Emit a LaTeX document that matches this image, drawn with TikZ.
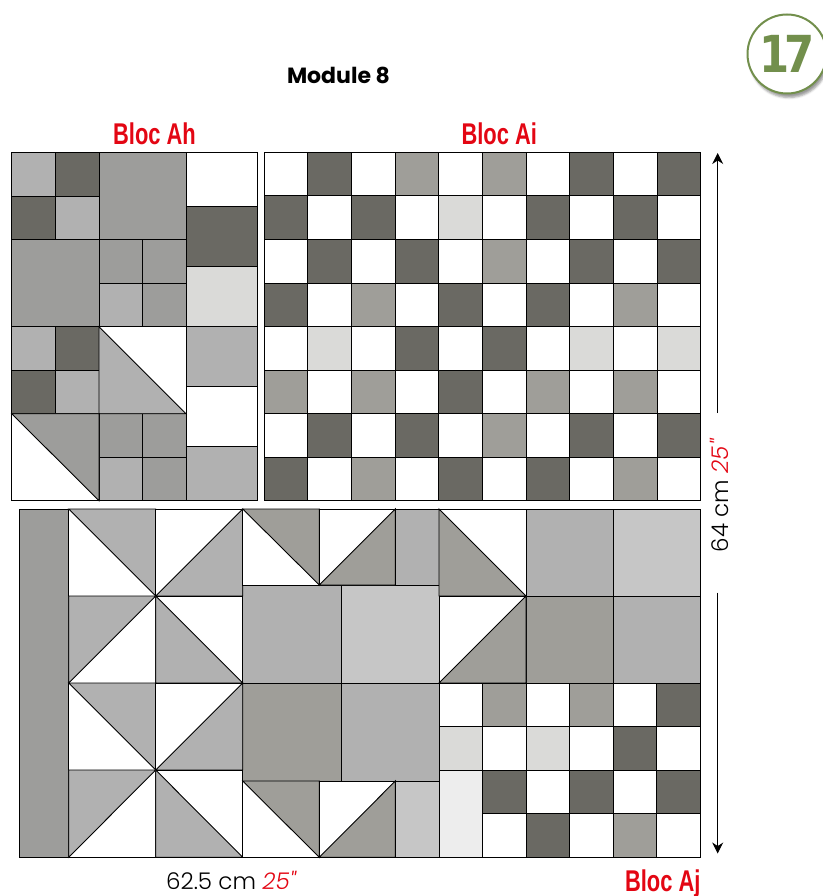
\documentclass[tikz,border=0pt]{standalone}
\usepackage{xcolor}
\usepackage{fontspec}
\usetikzlibrary{positioning, arrows.meta, shadows, shadows.blur}
\setmainfont{Poppins}
\newfontfamily\dimfont{Poppins Light}
\newfontfamily\blocfont[FakeStretch=0.73]{Liberation Sans}
\newfontfamily\badgefont[FakeStretch=0.85]{DejaVu Sans}
\definecolor{darkpatch}{HTML}{6A6963}
\definecolor{midpatch}{HTML}{9D9D9B}
\definecolor{warmpatch}{HTML}{9F9E99}
\definecolor{greypatch}{HTML}{B1B1B1}
\definecolor{softpatch}{HTML}{C6C6C6}
\definecolor{palepatch}{HTML}{DADAD8}
\definecolor{mistpatch}{HTML}{EDEDED}
\definecolor{blocred}{HTML}{E30613}
\definecolor{badgegreen}{HTML}{728F4C}

\begin{document}
\begin{tikzpicture}[
  x=1pt, y=-1pt,
  patch/.style={draw=black, line width=0.9pt},
  bloc/.style={font=\blocfont\bfseries\fontsize{30}{30}\selectfont, text=blocred, inner sep=0pt, anchor=base},
  dimtext/.style={font=\dimfont\fontsize{#1}{#1}\selectfont, inner sep=0pt},
  dimarrow/.style={-{Stealth[length=11pt,width=11pt]}, line width=0.9pt, draw=black}
]
\useasboundingbox (0,0) rectangle (822,896);

% Bloc Ah: rectangles
\foreach \xa/\ya/\xb/\yb/\col in {
  11.7/152.3/55.3/196/greypatch, 55.3/152.3/99/196/darkpatch,
  11.7/196/55.3/239.3/darkpatch, 55.3/196/99/239.3/greypatch,
  99/152.3/186/239.3/midpatch, 11.7/239.3/99/326.7/midpatch,
  99/239.3/142.3/283/midpatch, 142.3/239.3/186/283/midpatch,
  99/283/142.3/326.7/greypatch, 142.3/283/186/326.7/midpatch,
  11.7/326.7/55.3/370/greypatch, 55.3/326.7/99/370/darkpatch,
  11.7/370/55.3/413.7/darkpatch, 55.3/370/99/413.7/greypatch,
  99/413.7/142.3/457.3/midpatch, 142.3/413.7/186/457.3/midpatch,
  99/457.3/142.3/500.7/greypatch, 142.3/457.3/186/500.7/midpatch,
  186/152.3/257/206.7/white, 186/206.7/257/266.3/darkpatch,
  186/266.3/257/326.7/palepatch, 186/326.7/257/386.3/greypatch,
  186/386.3/257/446.3/white, 186/446.3/257/500.7/greypatch}
  \draw[patch, fill=\col] (\xa,\ya) rectangle (\xb,\yb);

% Bloc Ai: checkerboard, one row per line
\foreach \rowcols [count=\r from 0] in {
  {white,darkpatch,white,warmpatch,white,warmpatch,white,darkpatch,white,darkpatch},
  {darkpatch,white,darkpatch,white,palepatch,white,darkpatch,white,darkpatch,white},
  {white,darkpatch,white,darkpatch,white,warmpatch,white,darkpatch,white,darkpatch},
  {darkpatch,white,warmpatch,white,darkpatch,white,darkpatch,white,warmpatch,white},
  {white,palepatch,white,darkpatch,white,darkpatch,white,palepatch,white,palepatch},
  {warmpatch,white,warmpatch,white,darkpatch,white,warmpatch,white,warmpatch,white},
  {white,darkpatch,white,darkpatch,white,warmpatch,white,darkpatch,white,darkpatch},
  {darkpatch,white,warmpatch,white,darkpatch,white,darkpatch,white,warmpatch,white}}
  \foreach \col [count=\c from 0] in \rowcols
    \draw[patch, fill=\col] ({264.3+\c*43.64},{152.3+\r*43.55}) rectangle ++(43.64,43.55);

% Bloc Aj: border strip and plain rectangles
\foreach \xa/\ya/\xb/\yb/\col in {
  19.3/509/68.7/857.3/midpatch,
  395.3/509/439/585/greypatch, 395.3/781/439/857.3/softpatch,
  242.7/585/341/683/greypatch, 341/585/439/683/softpatch,
  242.7/683/341/781/warmpatch, 341/683/439/781/greypatch,
  526/509/613.3/596/greypatch, 613.3/509/700.3/596/softpatch,
  526/596/613.3/683/warmpatch, 613.3/596/700.3/683/greypatch,
  439/770/482.3/857.3/mistpatch}
  \draw[patch, fill=\col] (\xa,\ya) rectangle (\xb,\yb);

% Half square triangles: diagonal ends, then the coloured corner
\foreach \xa/\ya/\xb/\yb/\xc/\yc/\col in {
  99/326.7/186/413.7/99/413.7/greypatch,
  11.7/413.7/99/500.7/99/413.7/midpatch,
  68.7/509/155.7/596/155.7/509/greypatch,
  155.7/596/242.7/509/242.7/596/greypatch,
  68.7/683/155.7/596/68.7/596/greypatch,
  155.7/596/242.7/683/155.7/683/greypatch,
  68.7/683/155.7/770/155.7/683/greypatch,
  155.7/770/242.7/683/242.7/770/greypatch,
  68.7/857.3/155.7/770/68.7/770/greypatch,
  155.7/770/242.7/857.3/155.7/857.3/greypatch,
  242.7/509/319.3/585/319.3/509/warmpatch,
  319.3/585/395.3/509/395.3/585/warmpatch,
  242.7/781/319.3/857.3/319.3/781/warmpatch,
  319.3/857.3/395.3/781/395.3/857.3/warmpatch,
  439/509/526/596/439/596/warmpatch,
  439/683/526/596/526/683/warmpatch}
{
  \draw[patch, fill=white] (\xa,\ya) rectangle (\xb,\yb);
  \draw[patch, fill=\col] (\xa,\ya) -- (\xc,\yc) -- (\xb,\yb) -- cycle;
}

% Bloc Aj: small squares
\foreach \rowcols [count=\r from 0] in {
  {white,warmpatch,white,warmpatch,white,darkpatch},
  {palepatch,white,palepatch,white,darkpatch,white}}
  \foreach \col [count=\c from 0] in \rowcols
    \draw[patch, fill=\col] ({439+\c*43.55},{683+\r*43.55}) rectangle ++(43.55,43.55);
\foreach \rowcols [count=\r from 0] in {
  {darkpatch,white,darkpatch,white,darkpatch},
  {white,darkpatch,white,warmpatch,white}}
  \foreach \col [count=\c from 0] in \rowcols
    \draw[patch, fill=\col] ({482.55+\c*43.55},{770+\r*43.65}) rectangle ++(43.55,43.65);

% Labels
\node[font=\bfseries\fontsize{22}{22}\selectfont, inner sep=0pt] (module) at (338.5,75) {Module 8};
\node[bloc] (blocah) at (154.5,144.7) {Bloc Ah};
\node[bloc] (blocai) at (499.3,144.7) {Bloc Ai};
\node[bloc, anchor=base east] (blocaj) at (700.7,891) {Bloc Aj};
\node[dimtext=23] (width) at (231,880) {62.5 cm \textcolor{blocred}{\itshape 25"}};
\node[dimtext=23, rotate=90] (height) at (719,496) {64 cm \textcolor{blocred}{\itshape 25"}};

% Number badge
\node[circle, draw=badgegreen, line width=2pt, fill=white, minimum size=79pt, inner sep=0pt,
  blur shadow={shadow xshift=2pt, shadow yshift=-4pt, shadow opacity=40},
  text=badgegreen, font=\badgefont\bfseries\fontsize{51}{51}\selectfont] (badge) at (787,54) {1\kern-6pt 7};

% Height arrows
\coordinate (uppertail) at (717.7,413);
\coordinate (uppertip) at (717.7,153);
\coordinate (lowertail) at (717.7,592.7);
\coordinate (lowertip) at (717.7,853.5);
\draw[dimarrow] (uppertail) -- (uppertip);
\draw[dimarrow] (lowertail) -- (lowertip);

\end{tikzpicture}
\end{document}
